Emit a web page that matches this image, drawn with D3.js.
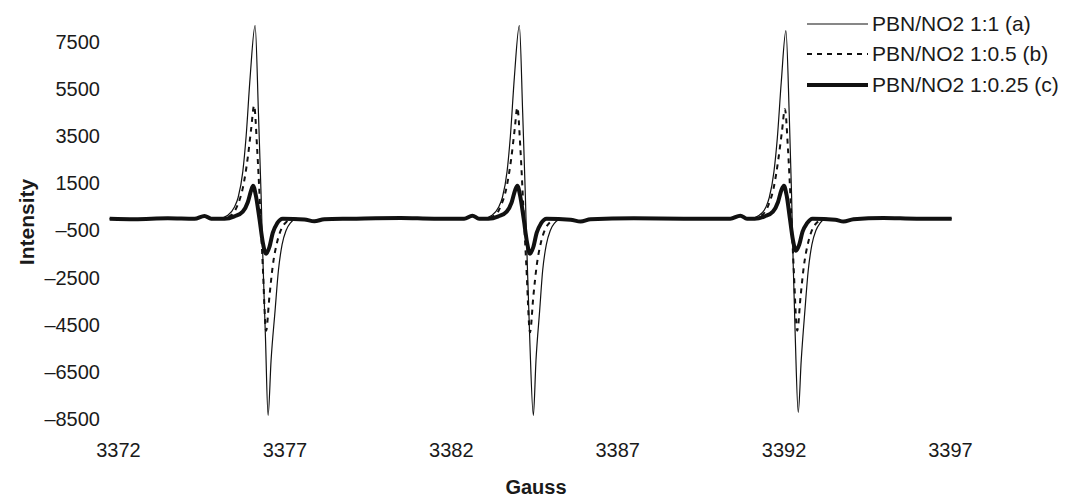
<!DOCTYPE html>
<html>
<head>
<meta charset="utf-8">
<script src="https://cdn.jsdelivr.net/npm/d3@7"></script>
<style>
  body { margin: 0; background: #fff; }
  text { font-family: "Liberation Sans", Arial, sans-serif; fill: #1a1a1a; }
</style>
</head>
<body>
<script>
// EPR spectra, [gauss, intensity]
const seriesA = [
  [3371.75, 0], [3372.5, -20], [3373.5, 20], [3374.3, 0], [3374.6, 120], [3374.8, 0],
  [3375.00, 0], [3375.30, 150], [3375.50, 500], [3375.61, 900], [3375.75, 2000], [3375.85, 3500],
  [3375.97, 6000], [3376.12, 8200], [3376.22, 4500], [3376.30, 1000], [3376.36, -2000], [3376.43, -5000],
  [3376.51, -8350], [3376.60, -6000], [3376.72, -3900], [3376.82, -2200], [3376.93, -1100], [3377.05, -500],
  [3377.17, -200], [3377.40, 0],
  [3377.6, -30], [3377.9, -110], [3378.2, -20], [3379, 0], [3380.5, 30], [3381.5, 0], [3382.4, 0], [3382.65, 130], [3382.85, 0],
  [3382.95, 0], [3383.24, 150], [3383.44, 500], [3383.55, 900], [3383.69, 2000], [3383.79, 3500],
  [3383.91, 6000], [3384.06, 8200], [3384.16, 4500], [3384.24, 1000], [3384.30, -2000], [3384.37, -5000],
  [3384.48, -8350], [3384.56, -6000], [3384.67, -3900], [3384.76, -2200], [3384.87, -1100], [3384.99, -500],
  [3385.11, -200], [3385.35, 0],
  [3385.6, -40], [3385.9, -120], [3386.2, -20], [3387.5, 20], [3389, 0], [3390.4, 0], [3390.7, 130], [3390.9, 0],
  [3390.98, 0], [3391.27, 150], [3391.47, 500], [3391.57, 900], [3391.71, 2000], [3391.81, 3400],
  [3391.93, 5800], [3392.07, 7980], [3392.17, 4400], [3392.24, 1000], [3392.29, -2000], [3392.35, -5000],
  [3392.44, -8220], [3392.53, -6000], [3392.64, -3900], [3392.74, -2200], [3392.85, -1100], [3392.97, -500],
  [3393.09, -200], [3393.30, 0],
  [3393.55, -40], [3393.8, -120], [3394.1, -20], [3395, 30], [3396, 0], [3397.05, 0]
];

const seriesB = [
  [3371.75, 0], [3372.5, -20], [3373.5, 20], [3374.3, 0], [3374.6, 120], [3374.8, 0],
  [3375.10, 0], [3375.40, 150], [3375.60, 600], [3375.75, 1300], [3375.90, 2600], [3376.00, 3800],
  [3376.09, 4800], [3376.18, 3000], [3376.27, 500], [3376.35, -2000], [3376.45, -4750], [3376.55, -3300],
  [3376.65, -2000], [3376.78, -1000], [3376.92, -400], [3377.05, -150], [3377.25, 0],
  [3377.6, -30], [3377.9, -110], [3378.2, -20], [3379, 0], [3380.5, 30], [3381.5, 0], [3382.4, 0], [3382.65, 130], [3382.85, 0],
  [3383.02, 0], [3383.33, 150], [3383.52, 600], [3383.67, 1300], [3383.82, 2600], [3383.92, 3800],
  [3384.00, 4720], [3384.09, 3000], [3384.18, 500], [3384.27, -2000], [3384.38, -4820], [3384.48, -3300],
  [3384.58, -2000], [3384.71, -1000], [3384.85, -400], [3384.98, -150], [3385.18, 0],
  [3385.6, -40], [3385.9, -120], [3386.2, -20], [3387.5, 20], [3389, 0], [3390.4, 0], [3390.7, 130], [3390.9, 0],
  [3391.05, 0], [3391.35, 150], [3391.55, 600], [3391.70, 1300], [3391.85, 2600], [3391.95, 3700],
  [3392.04, 4650], [3392.13, 3000], [3392.22, 500], [3392.30, -2000], [3392.41, -4750], [3392.51, -3300],
  [3392.61, -2000], [3392.74, -1000], [3392.88, -400], [3393.01, -150], [3393.21, 0],
  [3393.55, -40], [3393.8, -120], [3394.1, -20], [3395, 30], [3396, 0], [3397.05, 0]
];

const seriesC = [
  [3371.75, 0], [3372.5, -20], [3373.5, 20], [3374.3, 0], [3374.6, 120], [3374.8, 0],
  [3375.20, 0], [3375.50, 100], [3375.75, 300], [3375.90, 700], [3376.00, 1200], [3376.06, 1400],
  [3376.14, 1000], [3376.25, 0], [3376.35, -1000], [3376.45, -1490], [3376.55, -1200], [3376.65, -600],
  [3376.78, -200], [3376.95, 0],
  [3377.6, -30], [3377.9, -110], [3378.2, -20], [3379, 0], [3380.5, 30], [3381.5, 0], [3382.4, 0], [3382.65, 130], [3382.85, 0],
  [3383.13, 0], [3383.43, 100], [3383.68, 300], [3383.83, 700], [3383.93, 1200], [3384.00, 1400],
  [3384.08, 1000], [3384.19, 0], [3384.29, -1000], [3384.38, -1490], [3384.48, -1200], [3384.58, -600],
  [3384.71, -200], [3384.88, 0],
  [3385.6, -40], [3385.9, -120], [3386.2, -20], [3387.5, 20], [3389, 0], [3390.4, 0], [3390.7, 130], [3390.9, 0],
  [3391.13, 0], [3391.43, 100], [3391.68, 300], [3391.83, 700], [3391.93, 1200], [3392.01, 1400],
  [3392.09, 1000], [3392.19, 0], [3392.28, -900], [3392.37, -1360], [3392.47, -1100], [3392.57, -550],
  [3392.70, -200], [3392.87, 0],
  [3393.55, -40], [3393.8, -120], [3394.1, -20], [3395, 30], [3396, 0], [3397.05, 0]
];

const seriesNames = ["PBN/NO2 1:1 (a)", "PBN/NO2 1:0.5 (b)", "PBN/NO2 1:0.25 (c)"];
const xTicks = [3372, 3377, 3382, 3387, 3392, 3397];
const yTicks = [7500, 5500, 3500, 1500, -500, -2500, -4500, -6500, -8500];

const w = 1066, h = 498;

const svg = d3.select("body")
              .append("svg")
              .attr("width", w)
              .attr("height", h)
              .style("background-color", "white");

// scales
const xScale = d3.scaleLinear()
                 .domain([3372, 3397])
                 .range([118, 950]);

const yScale = d3.scaleLinear()
                 .domain([-8500, 7500])
                 .range([419, 42]);

// axes without lines, labels only
const xAxis = d3.axisBottom(xScale)
                .tickValues(xTicks)
                .tickFormat(d3.format("d"))
                .tickSize(0)
                .tickPadding(0);

const gx = svg.append("g")
              .attr("transform", "translate(0, 443)")
              .call(xAxis);
gx.select(".domain").remove();
gx.selectAll("text")
  .attr("dy", "0.71em")
  .style("font-size", "20px")
  .style("fill", "#1a1a1a");

const yAxis = d3.axisLeft(yScale)
                .tickValues(yTicks)
                .tickFormat(d => d < 0 ? "\u2013" + Math.abs(d) : d)
                .tickSize(0)
                .tickPadding(0);

const gy = svg.append("g")
              .attr("transform", "translate(100, 0)")
              .call(yAxis);
gy.select(".domain").remove();
gy.selectAll("text")
  .style("font-size", "20px")
  .style("fill", "#1a1a1a");

// axis titles
svg.append("text")
   .attr("x", 536)
   .attr("y", 494)
   .attr("text-anchor", "middle")
   .style("font-size", "20px")
   .style("font-weight", "bold")
   .text("Gauss");

svg.append("text")
   .attr("transform", "translate(34, 222) rotate(-90)")
   .attr("text-anchor", "middle")
   .style("font-size", "21px")
   .style("font-weight", "bold")
   .text("Intensity");

// lines
const line = d3.line()
               .x(d => xScale(d[0]))
               .y(d => yScale(d[1]))
               .curve(d3.curveMonotoneX);

const styles = [
  {width: 1.2, dash: null},
  {width: 2, dash: "5,5"},
  {width: 4, dash: null}
];

[seriesA, seriesB, seriesC].forEach((s, i) => {
  svg.append("path")
     .datum(s)
     .attr("d", line)
     .attr("fill", "none")
     .attr("stroke", "#111")
     .attr("stroke-width", styles[i].width)
     .attr("stroke-dasharray", styles[i].dash)
     .attr("stroke-linejoin", "round");
});

// legend
const legend = svg.append("g");
const legendRows = [24, 54, 85];
seriesNames.forEach((name, i) => {
  legend.append("line")
        .attr("x1", 807)
        .attr("x2", 868)
        .attr("y1", legendRows[i])
        .attr("y2", legendRows[i])
        .attr("stroke", "#111")
        .attr("stroke-width", styles[i].width)
        .attr("stroke-dasharray", styles[i].dash);
  legend.append("text")
        .attr("x", 872)
        .attr("y", legendRows[i])
        .attr("dy", "0.35em")
        .style("font-size", "21px")
        .text(name);
});
</script>
</body>
</html>
